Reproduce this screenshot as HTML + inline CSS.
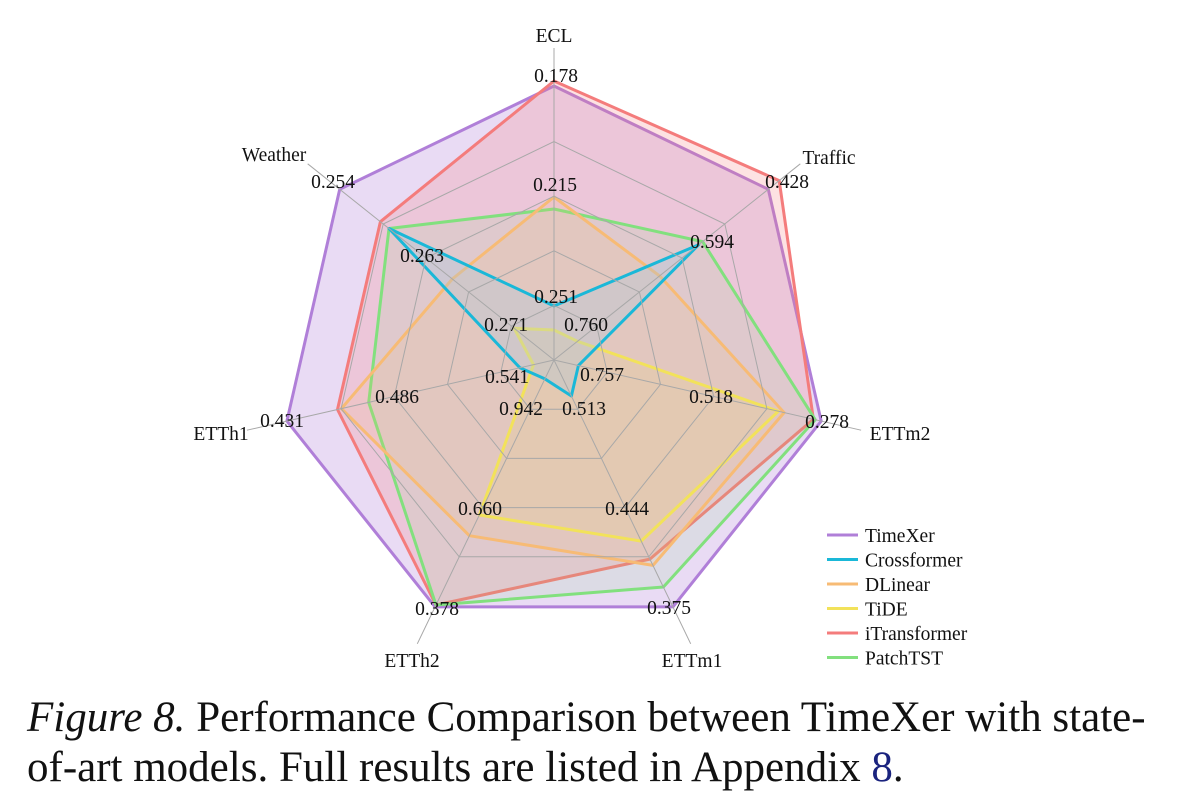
<!DOCTYPE html>
<html><head><meta charset="utf-8"><style>
html,body{margin:0;padding:0;background:#fff;}
svg{display:block;}
text{font-family:"Liberation Serif",serif;fill:#111;}
</style></head><body>
<svg width="1189" height="806" viewBox="0 0 1189 806" xmlns="http://www.w3.org/2000/svg">
<g stroke-linejoin="round">
<polygon points="554,86 768.3,189.3 821.2,421.1 672.9,606.9 435.1,606.9 286.9,421.1 339.7,189.3" fill="#b07fd8" fill-opacity="0.28" stroke="#b07fd8" stroke-width="3"/>
<polygon points="554,81 779.2,180.6 813.4,419.3 649.9,559.1 436,605 337.5,409.5 380.4,221.7" fill="#f47c7c" fill-opacity="0.22" stroke="#f47c7c" stroke-width="3"/>
<polygon points="554,209 702.6,241.6 815.3,419.8 663.4,587 436,605 368.7,402.4 389,228.5" fill="#82e07e" fill-opacity="0.12" stroke="#82e07e" stroke-width="3"/>
<polygon points="554,197 659.6,275.9 784.1,412.6 653,565.4 469.4,535.7 341.4,408.6 452.3,279" fill="#f7bb75" fill-opacity="0.15" stroke="#f7bb75" stroke-width="3"/>
<polygon points="554,330 577.5,341.3 778.3,411.3 641.2,541.1 479.4,515 533.5,364.7 514.1,328.2" fill="#f2e25a" fill-opacity="0.12" stroke="#f2e25a" stroke-width="3"/>
<polygon points="554,306 698.7,244.7 578.4,365.6 571.4,396 544.9,378.9 519.9,367.8 389,228.5" fill="#a6c8e0" fill-opacity="0.3" stroke="#1ab8d8" stroke-width="3"/>
</g>
<g fill="none" stroke="#a8a8a8" stroke-width="1">
<polygon points="554,305.4 596.7,326 607.2,372.2 577.7,409.2 530.3,409.2 500.8,372.2 511.3,326"/>
<polygon points="554,250.8 639.4,292 660.5,384.4 601.4,458.4 506.6,458.4 447.5,384.4 468.6,292"/>
<polygon points="554,196.2 682.1,258 713.7,396.5 625.1,507.6 482.9,507.6 394.3,396.5 425.9,258"/>
<polygon points="554,141.6 724.8,224 766.9,408.7 648.8,556.8 459.2,556.8 341.1,408.7 383.2,224"/>
<line x1="554" y1="360" x2="554" y2="48"/>
<line x1="554" y1="360" x2="800.3" y2="163.8"/>
<line x1="554" y1="360" x2="861.1" y2="430.2"/>
<line x1="554" y1="360" x2="690.7" y2="643.8"/>
<line x1="554" y1="360" x2="417.3" y2="643.8"/>
<line x1="554" y1="360" x2="246.9" y2="430.2"/>
<line x1="554" y1="360" x2="307.7" y2="163.8"/>
</g>
<g font-size="19.5" text-anchor="middle">
<text x="554" y="42">ECL</text>
<text x="829" y="164">Traffic</text>
<text x="900" y="440">ETTm2</text>
<text x="692" y="667">ETTm1</text>
<text x="412" y="667">ETTh2</text>
<text x="221" y="440">ETTh1</text>
<text x="274" y="161">Weather</text>
<text x="556" y="82">0.178</text>
<text x="555" y="191">0.215</text>
<text x="556" y="303">0.251</text>
<text x="787" y="188">0.428</text>
<text x="712" y="248">0.594</text>
<text x="586" y="331">0.760</text>
<text x="827" y="428">0.278</text>
<text x="711" y="403">0.518</text>
<text x="602" y="381">0.757</text>
<text x="669" y="614">0.375</text>
<text x="627" y="515">0.444</text>
<text x="584" y="415">0.513</text>
<text x="437" y="615">0.378</text>
<text x="480" y="515">0.660</text>
<text x="521" y="415">0.942</text>
<text x="282" y="427">0.431</text>
<text x="397" y="403">0.486</text>
<text x="507" y="383">0.541</text>
<text x="333" y="188">0.254</text>
<text x="422" y="262">0.263</text>
<text x="506" y="331">0.271</text>
</g>
<g stroke-width="3">
<line x1="827" y1="535" x2="858" y2="535" stroke="#b07fd8"/>
<line x1="827" y1="559.5" x2="858" y2="559.5" stroke="#1ab8d8"/>
<line x1="827" y1="584" x2="858" y2="584" stroke="#f7bb75"/>
<line x1="827" y1="608.5" x2="858" y2="608.5" stroke="#f2e25a"/>
<line x1="827" y1="633" x2="858" y2="633" stroke="#f47c7c"/>
<line x1="827" y1="657.5" x2="858" y2="657.5" stroke="#82e07e"/>
</g>
<g font-size="19.5">
<text x="865" y="542">TimeXer</text>
<text x="865" y="566.5">Crossformer</text>
<text x="865" y="591">DLinear</text>
<text x="865" y="615.5">TiDE</text>
<text x="865" y="640">iTransformer</text>
<text x="865" y="664.5">PatchTST</text>
</g>
<g font-size="43">
<text x="27" y="731"><tspan font-style="italic">Figure 8.</tspan> Performance Comparison between TimeXer with state-</text>
<text x="27" y="781">of-art models. Full results are listed in Appendix <tspan fill="#1a237e">8</tspan>.</text>
</g>
</svg>
</body></html>
